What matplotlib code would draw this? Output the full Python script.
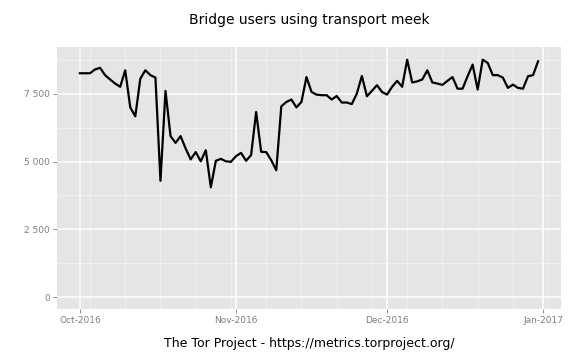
import datetime as dt
import matplotlib
matplotlib.use("Agg")
import matplotlib.pyplot as plt
import matplotlib.dates as mdates
import matplotlib.ticker as mticker
import numpy as np

# daily meek bridge users, 2016-10-01 .. 2016-12-31
start = dt.date(2016, 10, 1)
users = [
    8260, 8260, 8260, 8400, 8460, 8190, 8030, 7880, 7760, 8370,  # Oct 1-10
    7000, 6670, 8060, 8370, 8190, 8100, 4290, 7610, 5940, 5690,  # Oct 11-20
    5940, 5480, 5080, 5350, 5010, 5420, 4050, 5030, 5100, 5010,  # Oct 21-30
    4990,                                                        # Oct 31
    5200, 5320, 5030, 5240, 6830, 5360, 5350, 5050, 4680, 7040,  # Nov 1-10
    7200, 7290, 7000, 7200, 8120, 7570, 7470, 7450, 7450, 7290,  # Nov 11-20
    7420, 7180, 7180, 7120, 7510, 8160, 7410, 7610, 7820, 7570,  # Nov 21-30
    7470, 7760, 7980, 7760, 8760, 7920, 7960, 8030, 8370, 7920,  # Dec 1-10
    7880, 7830, 7980, 8120, 7690, 7690, 8150, 8580, 7660, 8760,  # Dec 11-20
    8640, 8190, 8190, 8100, 7720, 7840, 7720, 7690, 8150, 8190,  # Dec 21-30
    8700,                                                        # Dec 31
]
dates = [start + dt.timedelta(days=i) for i in range(len(users))]

month_ticks = [dt.date(2016, 10, 1), dt.date(2016, 11, 1),
               dt.date(2016, 12, 1), dt.date(2017, 1, 1)]
month_labels = ["Oct-2016", "Nov-2016", "Dec-2016", "Jan-2017"]
y_ticks = [0, 2500, 5000, 7500]

fig = plt.figure(figsize=(5.76, 3.6), dpi=100)
ax = fig.add_axes([57 / 576, 1 - 309 / 360, (561 - 57) / 576, (309 - 47) / 360])
ax.set_facecolor("#E5E5E5")

# weekly minor grid (Mondays), monthly major grid
mondays = [dt.date(2016, 9, 26) + dt.timedelta(weeks=w) for w in range(16)]
for d in mondays:
    ax.axvline(d, color="#F2F2F2", lw=0.6, zorder=0)
for v in [1250, 3750, 6250, 8750]:
    ax.axhline(v, color="#F2F2F2", lw=0.6, zorder=0)
for d in month_ticks:
    ax.axvline(d, color="white", lw=1.1, zorder=0.5)
for v in y_ticks:
    ax.axhline(v, color="white", lw=1.1, zorder=0.5)

ax.plot(dates, users, color="black", lw=1.6, zorder=3)

span = (dates[-1] - dates[0]).days * 0.05
ax.set_xlim(mdates.date2num(dates[0]) - span, mdates.date2num(dates[-1]) + span)
ax.set_ylim(-442, 9229)

ax.set_xticks(month_ticks)
ax.set_xticklabels(month_labels)
ax.set_yticks(y_ticks)
ax.yaxis.set_major_formatter(mticker.FuncFormatter(lambda v, p: f"{int(v):,}".replace(",", " ")))
ax.tick_params(axis="both", colors="#7F7F7F", labelsize=6.5, length=3, width=0.6, pad=2)

for s in ax.spines.values():
    s.set_visible(False)

fig.text(309 / 576, 1 - 20 / 360, "Bridge users using transport meek",
         ha="center", va="center", fontsize=10)
fig.text(309 / 576, 1 - 344 / 360, "The Tor Project - https://metrics.torproject.org/",
         ha="center", va="center", fontsize=9)

fig.savefig("out.png", dpi=100)
